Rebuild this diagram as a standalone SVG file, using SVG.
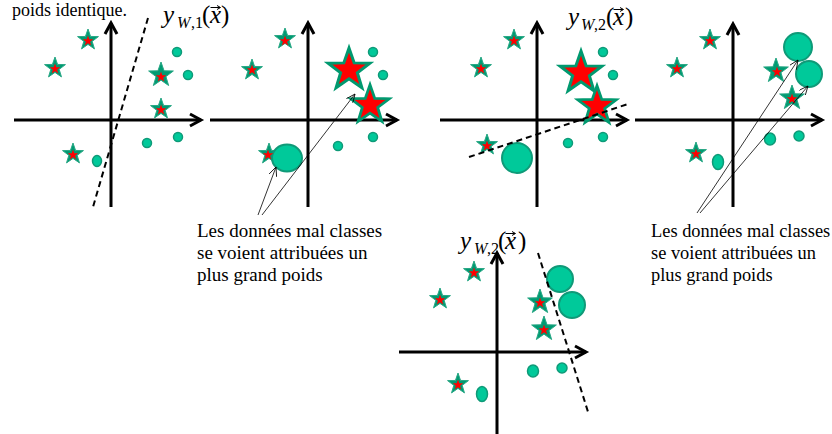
<svg xmlns="http://www.w3.org/2000/svg" xmlns:xlink="http://www.w3.org/1999/xlink" width="832" height="434" viewBox="0 0 832 434">
<style>
.ax{stroke:#000;stroke-width:3;fill:none}
.ah{stroke:#000;stroke-width:3;fill:none;stroke-linejoin:miter}
.dash{stroke:#000;stroke-width:2;stroke-dasharray:6 4;fill:none}
.gs{fill:#009B72;stroke:#2AA886;stroke-width:1}
.rs{fill:#FF0000}
.bs{fill:#FF0000;stroke:#00996F;stroke-width:3}
.ci{fill:#00C99A;stroke:#0F9A78;stroke-width:1.5}
.ptr{stroke:#000;stroke-width:0.8;fill:none}
.txt{font-family:"Liberation Serif","Times New Roman",serif;font-size:19px;fill:#000}
.lbl{font-family:"Liberation Serif","Times New Roman",serif;fill:#000}
.m{font-size:25px}
.s{font-size:16px}
.it{font-style:italic}
.vec{stroke:#000;stroke-width:1;fill:none}
</style>
<defs>
<path id="gstar" d="M0,-11 L2.59,-3.56 L10.46,-3.4 L4.18,1.36 L6.47,8.9 L0,4.4 L-6.47,8.9 L-4.18,1.36 L-10.46,-3.4 L-2.59,-3.56 Z"/>
<path id="gstar13" d="M0,-13 L3.06,-4.21 L12.36,-4.02 L4.94,1.61 L7.64,10.52 L0,5.2 L-7.64,10.52 L-4.94,1.61 L-12.36,-4.02 L-3.06,-4.21 Z"/>
<path id="rstar" d="M0,-5.5 L1.29,-1.78 L5.23,-1.7 L2.09,0.68 L3.23,4.45 L0,2.2 L-3.23,4.45 L-2.09,0.68 L-5.23,-1.7 L-1.29,-1.78 Z"/>
<path id="bstar" d="M0,-22 L5.17,-7.12 L20.92,-6.8 L8.37,2.72 L12.93,17.8 L0,8.8 L-12.93,17.8 L-8.37,2.72 L-20.92,-6.8 L-5.17,-7.12 Z"/>
<marker id="arr" markerWidth="10" markerHeight="8" refX="9" refY="4" orient="auto" markerUnits="userSpaceOnUse">
<path d="M0,0 L9,4 L0,8" fill="none" stroke="#000" stroke-width="0.8"/>
</marker>
</defs>
<rect width="832" height="434" fill="#fff"/>

<text class="txt" x="12" y="15.5" style="font-size:18px">poids identique.</text>

<!-- Panel 1 -->
<g id="panel1">
<path class="ax" d="M111,207 V23 M14,120 H201"/>
<path class="ah" d="M105,34 L111,23 L117,34 M190,114 L201,120 L190,126"/>
<path class="dash" d="M148,18 L93,207"/>
<use href="#gstar" class="gs" x="88" y="40"/><use href="#rstar" class="rs" x="88" y="41"/>
<use href="#gstar" class="gs" x="55" y="68"/><use href="#rstar" class="rs" x="55" y="69"/>
<use href="#gstar13" class="gs" x="161" y="75"/><use href="#rstar" class="rs" x="161" y="77"/>
<use href="#gstar" class="gs" x="161" y="109"/><use href="#rstar" class="rs" x="161" y="110"/>
<use href="#gstar" class="gs" x="73" y="154"/><use href="#rstar" class="rs" x="73" y="155"/>
<circle class="ci" cx="177" cy="52" r="4.5"/>
<circle class="ci" cx="188" cy="75" r="4.5"/>
<circle class="ci" cx="178" cy="137" r="4.5"/>
<circle class="ci" cx="147" cy="143" r="4.5"/>
<ellipse class="ci" cx="97" cy="161" rx="4.5" ry="5.5"/>
<text class="lbl"><tspan class="m it" x="163" y="23">y</tspan><tspan class="s it" x="177" y="28">W</tspan><tspan class="s" x="191" y="28">,</tspan><tspan class="s" x="195" y="28">1</tspan><tspan class="m" x="202" y="23">(</tspan><tspan class="m it" x="210" y="23">x</tspan><tspan class="m" x="221" y="23">)</tspan></text>
<path class="vec" d="M210.5,7.5 H220 M217,5.5 L220.5,7.5 L217,9.5"/>
</g>

<!-- Panel 2 -->
<g id="panel2">
<path class="ax" d="M308,207 V23 M210,120 H397"/>
<path class="ah" d="M302,34 L308,23 L314,34 M386,114 L397,120 L386,126"/>
<use href="#gstar" class="gs" x="285" y="39"/><use href="#rstar" class="rs" x="285" y="41"/>
<use href="#gstar" class="gs" x="252" y="70"/><use href="#rstar" class="rs" x="252" y="70"/>
<use href="#bstar" class="bs" x="349" y="70"/>
<use href="#bstar" class="bs" x="370" y="105" transform="translate(370 105) scale(0.92) translate(-370 -105)"/>
<circle class="ci" cx="373" cy="52" r="4.5"/>
<circle class="ci" cx="383" cy="75" r="4.5"/>
<circle class="ci" cx="373" cy="137" r="4.5"/>
<circle class="ci" cx="338" cy="146" r="4.5"/>
<use href="#gstar" class="gs" x="269" y="154"/>
<ellipse class="ci" cx="287" cy="158" rx="15" ry="13.5" style="stroke-width:2"/>
<use href="#rstar" class="rs" x="268" y="155"/>
<text class="txt"><tspan x="197" y="237">Les données mal classes</tspan><tspan x="197" y="259">se voient attribuées un</tspan><tspan x="197" y="281">plus grand poids</tspan></text>
</g>

<!-- Panel 3 -->
<g id="panel3">
<path class="ax" d="M537,207 V23 M440,120 H627"/>
<path class="ah" d="M531,34 L537,23 L543,34 M616,114 L627,120 L616,126"/>
<use href="#gstar" class="gs" x="514" y="40"/><use href="#rstar" class="rs" x="514" y="41"/>
<use href="#gstar" class="gs" x="481" y="68"/><use href="#rstar" class="rs" x="481" y="69"/>
<use href="#bstar" class="bs" x="581" y="73"/>
<use href="#bstar" class="bs" x="597" y="106" transform="translate(597 106) scale(0.92) translate(-597 -106)"/>
<use href="#gstar" class="gs" x="487" y="145"/><use href="#rstar" class="rs" x="487" y="146"/>
<circle class="ci" cx="603" cy="52" r="4.5"/>
<circle class="ci" cx="613" cy="75" r="4.5"/>
<circle class="ci" cx="603" cy="137" r="4.5"/>
<circle class="ci" cx="568" cy="143" r="4.5"/>
<circle class="ci" cx="517" cy="158" r="15" style="stroke-width:2"/>
<path class="dash" d="M469,157 L628,104"/>
<text class="lbl"><tspan class="m it" x="568" y="25">y</tspan><tspan class="s it" x="581" y="30">W</tspan><tspan class="s" x="594" y="30">,</tspan><tspan class="s" x="598" y="30">2</tspan><tspan class="m" x="606" y="25">(</tspan><tspan class="m it" x="613" y="25">x</tspan><tspan class="m" x="625" y="25">)</tspan></text>
<path class="vec" d="M613.5,9.5 H623 M620,7.5 L623.5,9.5 L620,11.5"/>
</g>

<!-- Panel 4 -->
<g id="panel4">
<path class="ax" d="M733,207 V24 M635,120 H822"/>
<path class="ah" d="M727,35 L733,24 L739,35 M811,114 L822,120 L811,126"/>
<use href="#gstar" class="gs" x="710" y="40"/><use href="#rstar" class="rs" x="710" y="41"/>
<use href="#gstar" class="gs" x="677" y="68"/><use href="#rstar" class="rs" x="677" y="69"/>
<use href="#gstar13" class="gs" x="776" y="71"/><use href="#rstar" class="rs" x="777" y="72"/>
<use href="#gstar13" class="gs" x="792" y="98"/><use href="#rstar" class="rs" x="792" y="99"/>
<use href="#gstar" class="gs" x="696" y="153"/><use href="#rstar" class="rs" x="696" y="154"/>
<circle class="ci" cx="798" cy="47" r="14" style="stroke-width:2"/>
<circle class="ci" cx="809" cy="74" r="13" style="stroke-width:2"/>
<ellipse class="ci" cx="770" cy="139" rx="5.5" ry="6"/>
<circle class="ci" cx="799" cy="136" r="5"/>
<ellipse class="ci" cx="718" cy="162" rx="5.5" ry="7.5"/>
<text class="txt" style="font-size:18.4px"><tspan x="651" y="237">Les données mal classes</tspan><tspan x="651" y="259">se voient attribuées un</tspan><tspan x="651" y="281">plus grand poids</tspan></text>
</g>

<!-- Panel 5 -->
<g id="panel5">
<path class="ax" d="M497,434 V253 M399,352 H586"/>
<path class="ah" d="M491,264 L497,253 L503,264 M575,346 L586,352 L575,358"/>
<use href="#gstar" class="gs" x="474" y="272"/><use href="#rstar" class="rs" x="474" y="273"/>
<use href="#gstar" class="gs" x="440" y="299"/><use href="#rstar" class="rs" x="440" y="300"/>
<use href="#gstar13" class="gs" x="540" y="302"/><use href="#rstar" class="rs" x="540" y="303"/>
<use href="#gstar13" class="gs" x="544" y="329"/><use href="#rstar" class="rs" x="544" y="330"/>
<use href="#gstar" class="gs" x="458" y="384"/><use href="#rstar" class="rs" x="458" y="385"/>
<circle class="ci" cx="560" cy="279" r="13" style="stroke-width:2"/>
<circle class="ci" cx="572" cy="305" r="13" style="stroke-width:2"/>
<ellipse class="ci" cx="533" cy="371" rx="5.5" ry="6"/>
<circle class="ci" cx="562" cy="368" r="5"/>
<ellipse class="ci" cx="482" cy="394" rx="5.5" ry="7.5"/>
<path class="dash" d="M538,253 L589,415"/>
<text class="lbl"><tspan class="m it" x="460" y="249">y</tspan><tspan class="s it" x="474" y="254">W</tspan><tspan class="s" x="487" y="254">,</tspan><tspan class="s" x="491" y="254">2</tspan><tspan class="m" x="498" y="249">(</tspan><tspan class="m it" x="505" y="249">x</tspan><tspan class="m" x="518" y="249">)</tspan></text>
<path class="vec" d="M505.5,233.5 H515 M512,231.5 L515.5,233.5 L512,235.5"/>
</g>

<!-- Connectors -->
<g id="connectors">
<path class="ptr" d="M258,215 L276,167" marker-end="url(#arr)"/>
<path class="ptr" d="M262,215 L355,94" marker-end="url(#arr)"/>
<path class="ptr" d="M697,213 L798,60" marker-end="url(#arr)"/>
<path class="ptr" d="M700,213 L808,86" marker-end="url(#arr)"/>
</g>
</svg>
